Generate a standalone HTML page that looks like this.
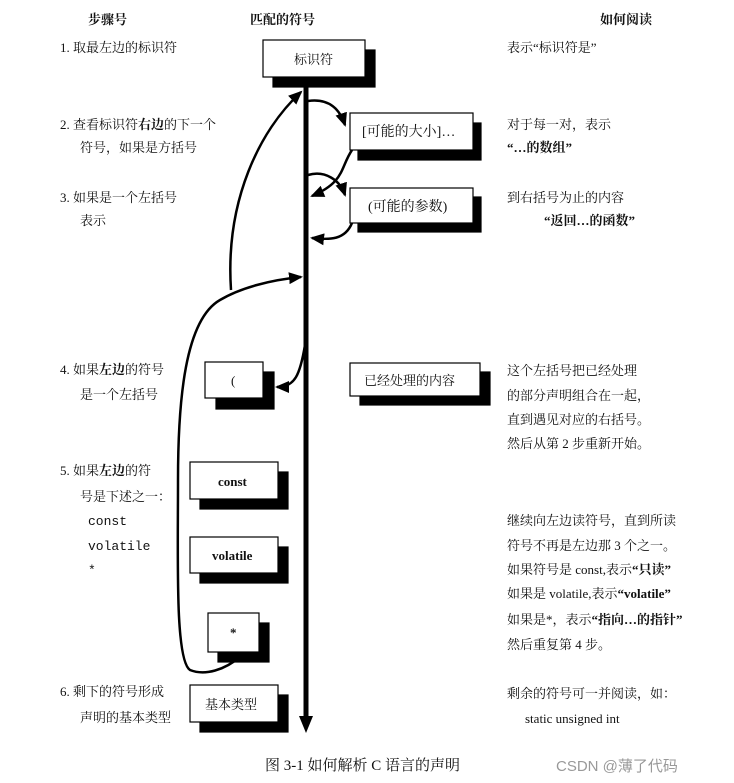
<!DOCTYPE html>
<html><head><meta charset="utf-8"><style>
html,body{margin:0;padding:0;background:#fff}
svg{display:block}
text{font-family:"Liberation Serif","Noto Serif CJK SC","Noto Sans CJK SC",serif;font-size:13px;fill:#111}
.b{font-weight:bold}
.m{font-family:"Liberation Mono",monospace}
</style></head><body>
<svg width="734" height="783" viewBox="0 0 734 783" xmlns="http://www.w3.org/2000/svg">
<defs>
<marker id="A" markerWidth="14" markerHeight="12" refX="12" refY="6" orient="auto" markerUnits="userSpaceOnUse"><path d="M0,0 L14,6 L0,12 z" fill="#000"/></marker></defs>

<text x="88" y="24" class="b">步骤号</text>
<text x="250" y="24" class="b">匹配的符号</text>
<text x="600" y="24" class="b">如何阅读</text>

<text x="60" y="52">1.  取最左边的标识符</text>
<text x="60" y="129">2.  查看标识符<tspan class="b">右边</tspan>的下一个</text>
<text x="80" y="152">符号，如果是方括号</text>
<text x="60" y="202">3.  如果是一个左括号</text>
<text x="80" y="225">表示</text>
<text x="60" y="374">4.  如果<tspan class="b">左边</tspan>的符号</text>
<text x="80" y="399">是一个左括号</text>
<text x="60" y="475">5.  如果<tspan class="b">左边</tspan>的符</text>
<text x="80" y="501">号是下述之一：</text>
<text x="88" y="525" class="m">const</text>
<text x="88" y="550" class="m">volatile</text>
<text x="88" y="574" class="m">*</text>
<text x="60" y="696">6.  剩下的符号形成</text>
<text x="80" y="722">声明的基本类型</text>

<text x="507" y="52">表示“标识符是”</text>
<text x="507" y="129">对于每一对，表示</text>
<text x="507" y="152" class="b">“…的数组”</text>
<text x="507" y="202">到右括号为止的内容</text>
<text x="544" y="225" class="b">“返回…的函数”</text>
<text x="507" y="375">这个左括号把已经处理</text>
<text x="507" y="400">的部分声明组合在一起，</text>
<text x="507" y="424">直到遇见对应的右括号。</text>
<text x="507" y="448">然后从第 2 步重新开始。</text>
<text x="507" y="525">继续向左边读符号，直到所读</text>
<text x="507" y="550">符号不再是左边那 3 个之一。</text>
<text x="507" y="574">如果符号是 const,表示<tspan class="b">“只读”</tspan></text>
<text x="507" y="598">如果是 volatile,表示<tspan class="b">“volatile”</tspan></text>
<text x="507" y="624">如果是*，表示<tspan class="b">“指向…的指针”</tspan></text>
<text x="507" y="649">然后重复第 4 步。</text>
<text x="507" y="698">剩余的符号可一并阅读，如：</text>
<text x="525" y="723">static unsigned int</text>

<line x1="306" y1="80" x2="306" y2="718" stroke="#000" stroke-width="5"/>
<path d="M299,716 L313,716 L306,733 z" fill="#000"/>

<g stroke="#000" stroke-width="1.2">
<rect x="273" y="50" width="102" height="37" fill="#000"/><rect x="263" y="40" width="102" height="37" fill="#fff"/>
<rect x="358" y="123" width="123" height="37" fill="#000"/><rect x="350" y="113" width="123" height="37" fill="#fff"/>
<rect x="358" y="197" width="123" height="35" fill="#000"/><rect x="350" y="188" width="123" height="35" fill="#fff"/>
<rect x="216" y="372" width="58" height="37" fill="#000"/><rect x="205" y="362" width="58" height="36" fill="#fff"/>
<rect x="360" y="372" width="130" height="33" fill="#000"/><rect x="350" y="363" width="130" height="33" fill="#fff"/>
<rect x="200" y="472" width="88" height="37" fill="#000"/><rect x="190" y="462" width="88" height="37" fill="#fff"/>
<rect x="200" y="547" width="88" height="36" fill="#000"/><rect x="190" y="537" width="88" height="36" fill="#fff"/>
<rect x="218" y="623" width="51" height="39" fill="#000"/><rect x="208" y="613" width="51" height="39" fill="#fff"/>
<rect x="200" y="695" width="88" height="37" fill="#000"/><rect x="190" y="685" width="88" height="37" fill="#fff"/>
</g>
<text x="294" y="64">标识符</text>
<text x="362" y="136" style="font-size:14px">[可能的大小]…</text>
<text x="368" y="211" style="font-size:14px">(可能的参数)</text>
<text x="231" y="385">(</text>
<text x="364" y="385">已经处理的内容</text>
<text x="218" y="486" class="b">const</text>
<text x="212" y="560" class="b">volatile</text>
<text x="230" y="637" class="b">*</text>
<text x="205" y="709">基本类型</text>

<g fill="none" stroke="#000" stroke-width="2.5">
<path d="M308,101 C330,98 340,110 345,125" marker-end="url(#A)"/>
<path d="M352,150 C340,168 345,182 312,196" marker-end="url(#A)"/>
<path d="M308,175 C325,170 340,180 345,195" marker-end="url(#A)"/>
<path d="M352,223 C345,240 330,240 312,238" marker-end="url(#A)"/>
<path d="M231,290 C225,200 260,130 301,92" marker-end="url(#A)"/>
<path d="M241,656 C225,670 205,676 190,670 C175,660 178,560 178,480 C178,400 185,320 220,300 C240,288 270,280 301,277" marker-end="url(#A)"/>
<path d="M305,345 C300,375 295,387 277,387" marker-end="url(#A)"/>
</g>

<text x="265" y="770" style="font-size:15px">图 3-1   如何解析 C 语言的声明</text>
<text x="556" y="771" style="font-family:'Liberation Sans','Noto Sans CJK SC',sans-serif;font-size:15px;fill:#999">CSDN @薄了代码</text>
</svg>
</body></html>
